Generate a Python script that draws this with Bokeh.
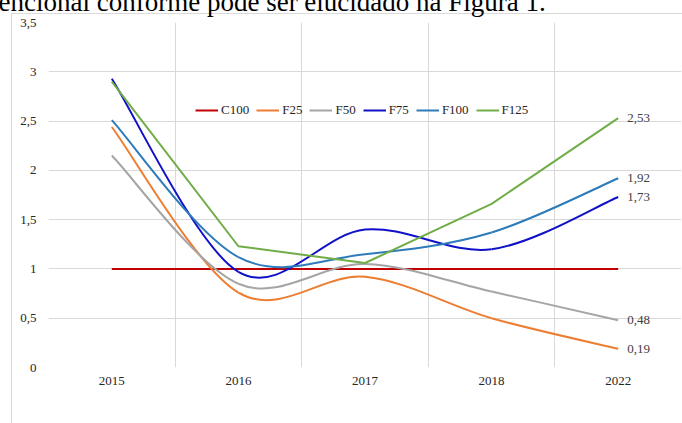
from bokeh.plotting import figure
from bokeh.models import FixedTicker, Legend, LegendItem, ColumnDataSource
from bokeh.embed import file_html
from bokeh.resources import INLINE
from bokeh.core.properties import value

# ---- data ----
years = ["2015", "2016", "2017", "2018", "2022"]
c100 = [1.00, 1.00, 1.00, 1.00, 1.00]
f25 = [2.44, 0.76, 0.92, 0.50, 0.19]
f50 = [2.15, 0.85, 1.05, 0.77, 0.48]
f75 = [2.93, 0.97, 1.40, 1.20, 1.73]
f100 = [2.51, 1.12, 1.15, 1.37, 1.92]
f125 = [2.90, 1.23, 1.06, 1.66, 2.53]
y_ticks = [0, 0.5, 1, 1.5, 2, 2.5, 3, 3.5]
intro_text = "encional conforme pode ser elucidado na Figura 1."

FONT = "Liberation Serif"
W, H = 682, 423
ML, MR, MT, MB = 48, 1, 22, 56

xs = list(range(len(years)))

p = figure(width=W, height=H, output_backend="svg", toolbar_location=None,
           x_range=(-0.5, len(years) - 0.5), y_range=(0, 3.5),
           min_border_left=ML, min_border_right=MR, min_border_top=MT, min_border_bottom=MB)
p.outline_line_color = None
p.background_fill_color = "white"
p.border_fill_color = None
# light-gray outer chart border (host background lines behind the transparent canvas border)
p.styles = {
    "background-color": "white",
    "background-image": "linear-gradient(#d9d9d9, #d9d9d9), linear-gradient(#d9d9d9, #d9d9d9)",
    "background-size": "1px 100%, 100% 1px",
    "background-position": "11px 13px, 11px 13px",
    "background-repeat": "no-repeat",
}

# cut-off document text above the chart (title pulled up so the frame keeps its place;
# the blank second line lets the first line sit at the very top, partly cut off)
p.title.text = intro_text + "\n "
p.title.text_font = FONT
p.title.text_font_size = "27px"
p.title.text_font_style = "normal"
p.title.text_color = "black"
p.title.align = "left"
p.title.vertical_align = "bottom"
p.title.standoff = -48
p.title.offset = -50

# axes
p.xaxis.ticker = FixedTicker(ticks=xs)
p.xaxis.major_label_overrides = {i: y for i, y in zip(xs, years)}
p.yaxis.ticker = FixedTicker(ticks=y_ticks)
p.yaxis.major_label_overrides = {t: ("%g" % t).replace(".", ",") for t in y_ticks}
for ax in (p.xaxis, p.yaxis):
    ax.axis_line_color = None
    ax.major_tick_line_color = None
    ax.minor_tick_line_color = None
    ax.major_tick_out = 0
    ax.major_tick_in = 0
    ax.major_label_text_font = FONT
    ax.major_label_text_font_size = "13px"
    ax.major_label_text_color = "#262626"
p.yaxis.major_label_standoff = 12
p.xaxis.major_label_standoff = 9

# grids
p.xgrid.ticker = FixedTicker(ticks=[i - 0.5 for i in range(len(years) + 1)])
p.ygrid.ticker = FixedTicker(ticks=y_ticks)
p.xgrid.grid_line_color = "#d9d9d9"
p.ygrid.grid_line_color = "#d9d9d9"
p.xgrid.grid_line_width = 1
p.ygrid.grid_line_width = 1


def smooth_source(vals):
    n = len(vals)
    d = dict(x0=[], y0=[], x1=[], y1=[], cx0=[], cy0=[], cx1=[], cy1=[])
    for i in range(n - 1):
        im = max(i - 1, 0)
        ip = min(i + 2, n - 1)
        d["x0"].append(xs[i]); d["y0"].append(vals[i])
        d["x1"].append(xs[i + 1]); d["y1"].append(vals[i + 1])
        d["cx0"].append(xs[i] + (xs[i + 1] - xs[im]) / 6.0)
        d["cy0"].append(vals[i] + (vals[i + 1] - vals[im]) / 6.0)
        d["cx1"].append(xs[i + 1] - (xs[ip] - xs[i]) / 6.0)
        d["cy1"].append(vals[i + 1] - (vals[ip] - vals[i]) / 6.0)
    return ColumnDataSource(d)


LW = 2


def smooth(vals, color):
    return p.bezier(x0="x0", y0="y0", x1="x1", y1="y1", cx0="cx0", cy0="cy0", cx1="cx1", cy1="cy1",
                    source=smooth_source(vals), line_color=color, line_width=LW)


r_c100 = p.line(xs, c100, line_color="#C00000", line_width=LW)
r_f25 = smooth(f25, "#ED7D31")
r_f50 = smooth(f50, "#A5A5A5")
r_f75 = smooth(f75, "#1010C8")
r_f100 = smooth(f100, "#2E7BBA")
r_f125 = p.line(xs, f125, line_color="#70AD47", line_width=LW)

# end-value labels
last_vals = [f125[-1], f100[-1], f75[-1], f50[-1], f25[-1]]
p.text(x=[xs[-1]] * len(last_vals), y=last_vals,
       text=[("%.2f" % v).replace(".", ",") for v in last_vals],
       x_offset=9, text_align="left", text_baseline="middle",
       text_font=value(FONT), text_font_size=value("13px"), text_color="#404040")

legend = Legend(items=[LegendItem(label="C100", renderers=[r_c100]),
                       LegendItem(label="F25", renderers=[r_f25]),
                       LegendItem(label="F50", renderers=[r_f50]),
                       LegendItem(label="F75", renderers=[r_f75]),
                       LegendItem(label="F100", renderers=[r_f100]),
                       LegendItem(label="F125", renderers=[r_f125])],
                orientation="horizontal", location=(147, 249),
                border_line_color=None, background_fill_alpha=0,
                padding=0, margin=0, spacing=7, label_standoff=3,
                glyph_width=23, glyph_height=14, label_height=14, label_width=10,
                label_text_font=FONT, label_text_font_size="13px", label_text_color="#262626")
p.add_layout(legend)

open("out.html", "w").write(file_html(p, INLINE))
